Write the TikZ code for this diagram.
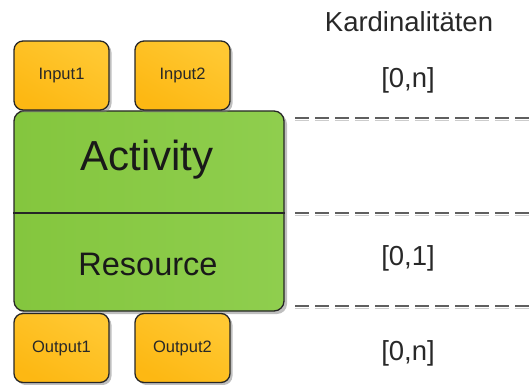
\documentclass[tikz,border=0pt]{standalone}
\usepackage{fontspec}
\setmainfont{Liberation Sans}
\usetikzlibrary{shadows}
\definecolor{boxorange}{RGB}{253,184,19}
\definecolor{boxorangelight}{RGB}{255,200,50}
\definecolor{boxgreen}{RGB}{143,206,78}
\definecolor{boxgreenlight}{RGB}{132,198,62}
\definecolor{labelgray}{RGB}{40,40,40}
\definecolor{dashgray}{RGB}{95,95,95}
\tikzset{
  portbox/.style={draw=black!85, line width=1.3pt, rounded corners=9pt,
    minimum width=95pt, minimum height=69pt, inner sep=0pt,
    top color=boxorangelight, bottom color=boxorange, shading angle=-30,
    drop shadow={shadow xshift=2.5pt, shadow yshift=-2.5pt, opacity=0.5, fill=black!50},
    font=\fontsize{16.5}{16.5}\selectfont, text=labelgray},
  mainbox/.style={draw=black!85, line width=1.3pt, rounded corners=10pt,
    minimum width=270pt, minimum height=200pt, inner sep=0pt,
    left color=boxgreenlight, right color=boxgreen,
    drop shadow={shadow xshift=3pt, shadow yshift=-3pt, opacity=0.5, fill=black!50}},
  cardlabel/.style={font=\fontsize{27.5}{27.5}\selectfont, text=labelgray, inner sep=0pt},
  sepline/.style={dashgray, line width=2pt, dash pattern=on 14pt off 6pt},
  sepshadow/.style={black!20, line width=1.5pt, dash pattern=on 14pt off 6pt}
}
\begin{document}
\begin{tikzpicture}[x=1pt,y=-1pt]
  \useasboundingbox (0,0) rectangle (530,385);

  % main activity block with its two compartments
  \node[mainbox] (act) at (149,211) {};
  \draw[black!85, line width=1.3pt] (act.west |- 0,213) coordinate (divl) -- (act.east |- 0,213) coordinate (divr);
  \node[font=\fontsize{42}{42}\selectfont, text=black!90, inner sep=0pt] (acttext) at (147,160) {Activity};
  \node[font=\fontsize{32.5}{32.5}\selectfont, text=black!90, inner sep=0pt] (restext) at (148,264) {Resource};

  % input and output ports
  \node[portbox] (in1) at (61.5,75.5) {Input1};
  \node[portbox] (in2) at (182.5,75.5) {Input2};
  \node[portbox] (out1) at (61.5,348) {Output1};
  \node[portbox] (out2) at (182.5,348) {Output2};

  % cardinality column
  \node[cardlabel] (head) at (409,22) {Kardinalitäten};
  \node[cardlabel] (cin) at (408,80) {[0,n]};
  \node[cardlabel] (cres) at (408,258) {[0,1]};
  \node[cardlabel] (cout) at (408,353) {[0,n]};

  % separators between the rows
  \foreach \yy/\nm in {118/a,213/b,306/c}{
    \coordinate (s\nm l) at (295,\yy);
    \coordinate (s\nm r) at (530,\yy);
    \draw[sepshadow] ([yshift=-2.5pt]s\nm l) -- ([yshift=-2.5pt]s\nm r);
    \draw[sepline] (s\nm l) -- (s\nm r);
  }
\end{tikzpicture}
\end{document}
